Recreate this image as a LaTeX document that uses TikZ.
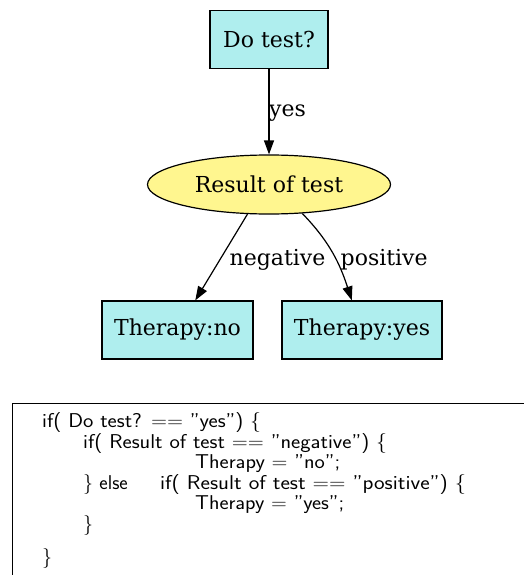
\documentclass[tikz,border=0pt]{standalone}
\usepackage{fontspec}
\newfontfamily\nodefont{DejaVu Serif}
\usetikzlibrary{arrows.meta,shapes.geometric}

\definecolor{boxfill}{HTML}{AFEEEE}
\definecolor{ovalfill}{HTML}{FFF68F}

% set a code line to a given width, keeping its height
\newcommand{\codefit}[2]{\resizebox{#1}{\height}{#2}}

\tikzset{
  base/.style={draw=black, line width=1.2pt, inner sep=0pt,
    font=\nodefont\fontsize{22}{26}\selectfont},
  actionbox/.style={base, rectangle, fill=boxfill, minimum height=58pt},
  chancenode/.style={base, ellipse, fill=ovalfill, minimum width=243pt, minimum height=59pt},
  edge/.style={draw=black, line width=1.2pt, -{Triangle[length=14pt,width=10pt]}},
  edgelabel/.style={font=\nodefont\fontsize{22}{26}\selectfont, inner sep=0pt, anchor=base west},
  codeline/.style={font=\sffamily\fontsize{20}{21.5}\selectfont, inner sep=0pt, anchor=base west}
}

\begin{document}
\begin{tikzpicture}[x=1pt,y=1pt]
\useasboundingbox (0,0) rectangle (524,-575);

% decision tree
\node[actionbox, minimum width=118pt] (dotest) at (269,-39.5) {Do test?};
\node[chancenode] (result) at (269,-184.5) {Result of test};
\node[actionbox, minimum width=151pt] (tno) at (177.5,-330) {Therapy:no};
\node[actionbox, minimum width=160pt] (tyes) at (362,-330) {Therapy:yes};

\draw[edge] (dotest.south) -- (result.north);
\draw[edge] (result.-126) -- (tno.59);
\draw[edge] (result.-41) to[out=-46,in=108] (tyes.109);

\node[edgelabel] (lyes) at (269,-117) {yes};
\node[edgelabel] (lneg) at (229.5,-265) {negative};
\node[edgelabel] (lpos) at (340.5,-265) {positive};

% code listing frame
\coordinate (frameTR) at (524,-403);
\coordinate (frameTL) at (12,-403);
\coordinate (frameBL) at (12,-575);
\draw[line width=0.9pt] (frameTR) -- (frameTL) -- (frameBL);

% code listing
\node[codeline] (c1) at (42,-427.5) {\codefit{219pt}{if( Do test? == "yes") \{}};
\node[codeline] (c2) at (83,-448) {\codefit{304pt}{if( Result of test == "negative") \{}};
\node[codeline] (c3) at (195,-468.5) {\codefit{145pt}{Therapy = "no";}};
\node[codeline] (c4a) at (83,-489) {\} else};
\node[codeline] (c4b) at (160,-489) {\codefit{306pt}{if( Result of test == "positive") \{}};
\node[codeline] (c5) at (195,-509.5) {\codefit{149pt}{Therapy = "yes";}};
\node[codeline] (c6) at (83,-530) {\}};
\node[codeline] (c7) at (42,-563) {\}};
\end{tikzpicture}
\end{document}
